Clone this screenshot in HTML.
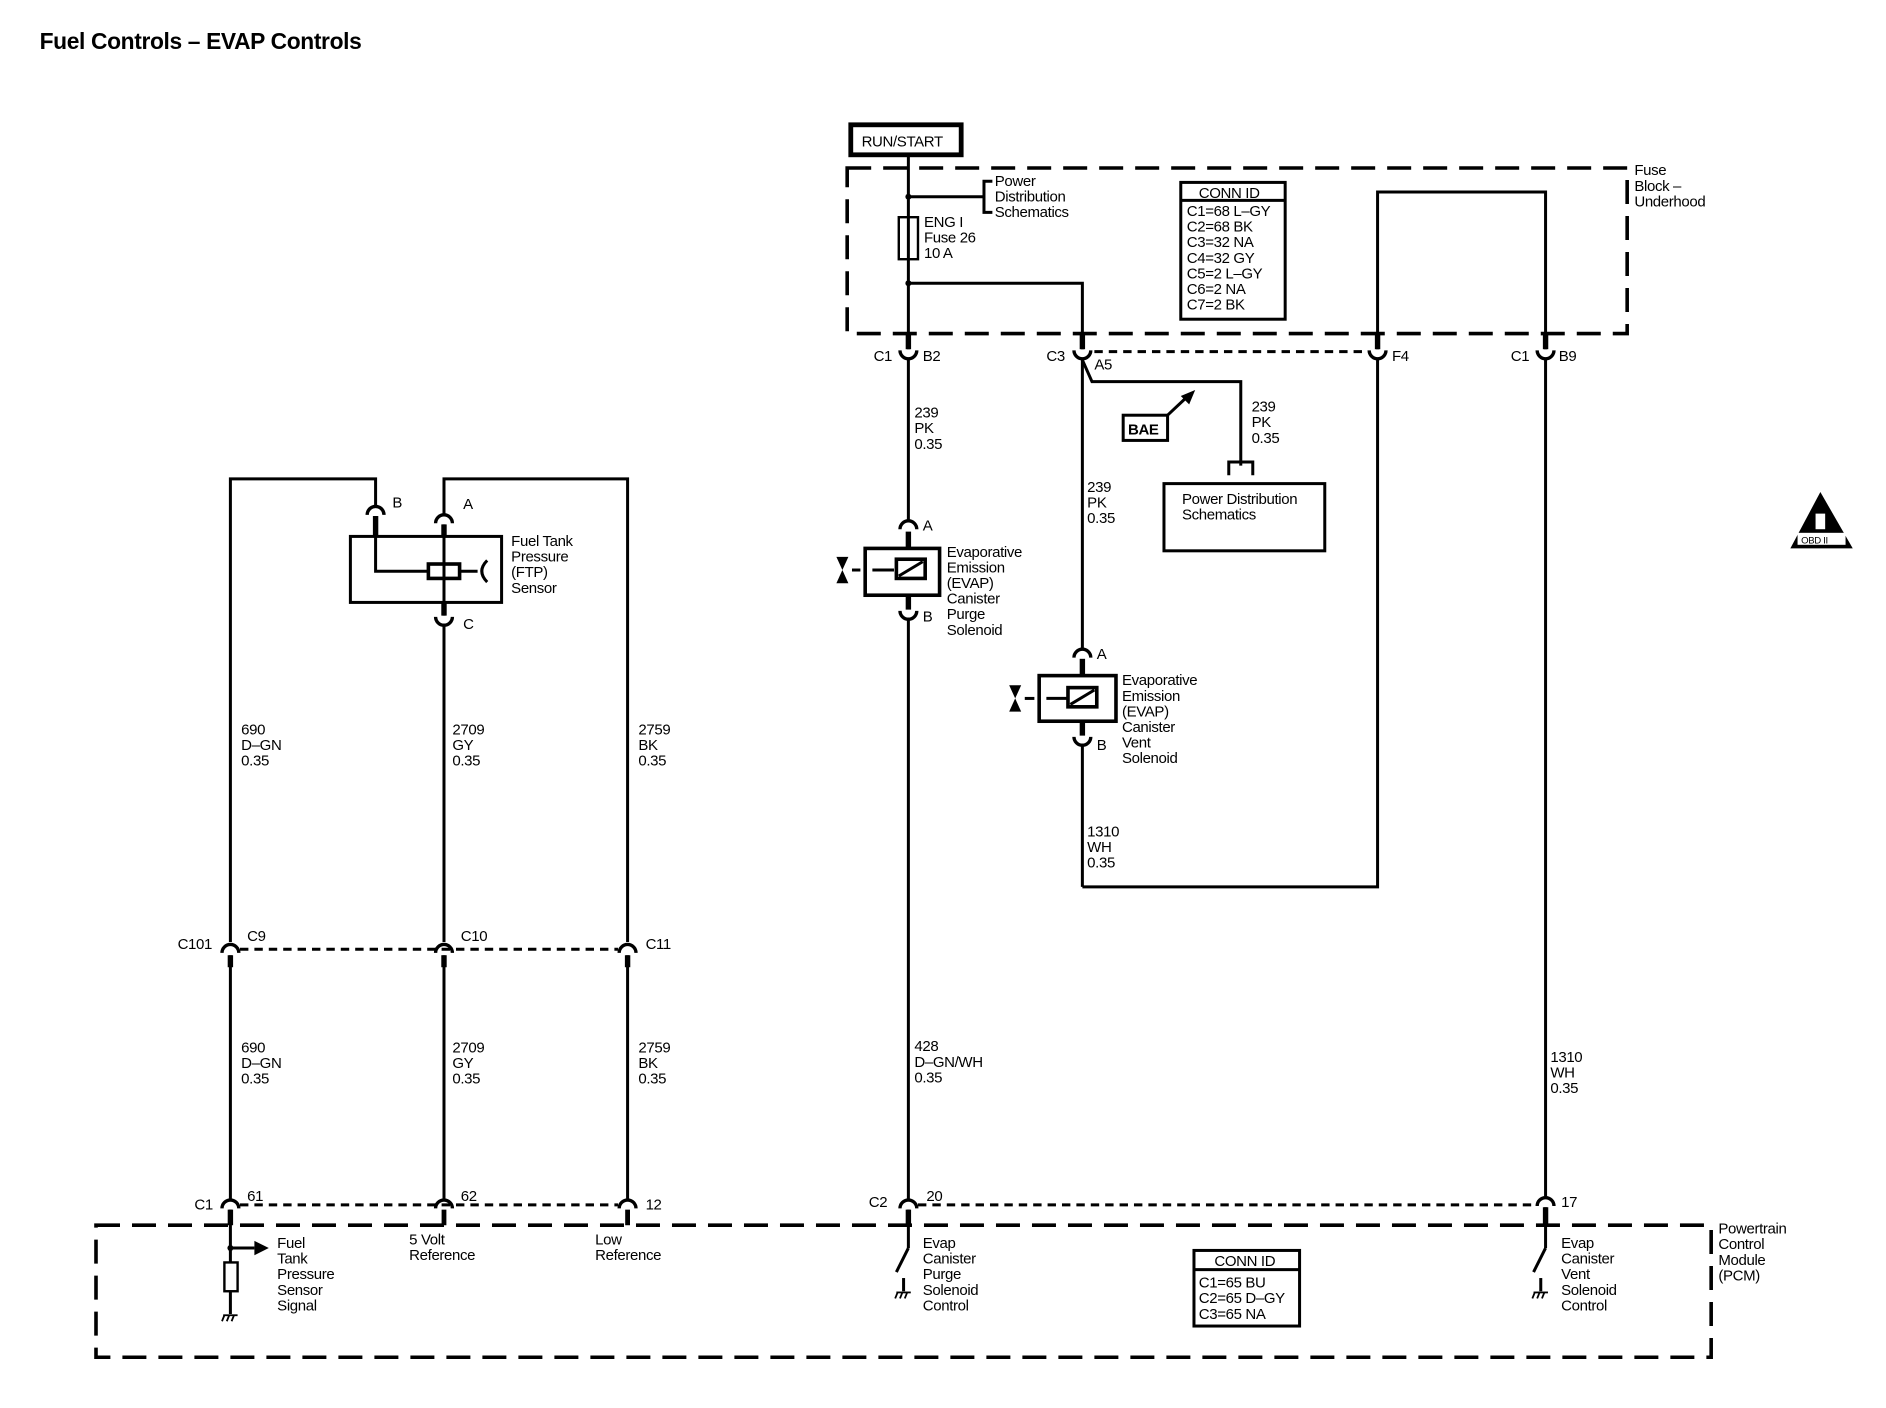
<!DOCTYPE html>
<html><head><meta charset="utf-8"><style>
html,body{margin:0;padding:0;background:#fff;}
svg{display:block;}
text{font-family:"Liberation Sans",sans-serif;font-size:12.5px;fill:#000;letter-spacing:-0.3px;}
.b{font-weight:bold;}
</style></head><body>
<svg width="1886" height="1408" viewBox="0 0 1571.7 1173.3" preserveAspectRatio="none" xmlns="http://www.w3.org/2000/svg">
<g fill="none" stroke="#000" stroke-width="2.5">
<rect x="706" y="140" width="650" height="138" stroke-dasharray="20,10" stroke-width="3"/>
<rect x="80" y="1021" width="1346" height="110" stroke-dasharray="20,10" stroke-width="3"/>
<rect x="709" y="104" width="92" height="25" stroke-width="4"/>
<line x1="757" y1="129" x2="757" y2="291"/>
<line x1="757" y1="300" x2="757" y2="434"/>
<line x1="757" y1="517" x2="757" y2="999"/>
<line x1="757" y1="1008" x2="757" y2="1040"/>
<line x1="757" y1="164" x2="820" y2="164"/>
<polyline points="827,151 820,151 820,177 827,177"/>
<rect x="749" y="181" width="16" height="35" stroke-width="2"/>
<polyline points="757,236 902,236 902,291"/>
<polyline points="902,300 910,318 1034,318 1034,388"/>
<polyline points="1024,396 1024,385 1044,385 1044,396"/>
<rect x="970" y="403" width="134" height="56"/>
<rect x="936" y="346" width="37" height="21"/>
<line x1="973" y1="346" x2="990" y2="330"/>
<line x1="902" y1="300" x2="902" y2="541"/>
<line x1="902" y1="621" x2="902" y2="739"/>
<polyline points="902,739 1148,739 1148,300"/>
<polyline points="1148,291 1148,160 1288,160 1288,291"/>
<line x1="1288" y1="300" x2="1288" y2="997"/>
<line x1="1288" y1="1006" x2="1288" y2="1040"/>
<line x1="912" y1="293" x2="1140" y2="293" stroke-dasharray="7,5"/>
<line x1="765" y1="1004" x2="1280" y2="1004" stroke-dasharray="7,5"/>
<line x1="200" y1="791" x2="515" y2="791" stroke-dasharray="7,5"/>
<line x1="200" y1="1004" x2="515" y2="1004" stroke-dasharray="7,5"/>
<polyline points="192,785 192,399 313,399 313,421"/>
<polyline points="370,428 370,399 523,399 523,785"/>
<line x1="192" y1="796" x2="192" y2="999"/>
<line x1="370" y1="796" x2="370" y2="999"/>
<line x1="523" y1="796" x2="523" y2="999"/>
<line x1="370" y1="522" x2="370" y2="785"/>
<rect x="292" y="447" width="126" height="55"/>
<polyline points="313,430 313,476 357,476"/>
<line x1="370" y1="437" x2="370" y2="513"/>
<rect x="357" y="470" width="26" height="12" stroke-width="3"/>
<line x1="383" y1="476" x2="398" y2="476"/>
<path d="M406,467 Q397,476 406,485"/>
<line x1="192" y1="1008" x2="192" y2="1095"/>
<line x1="192" y1="1040" x2="212" y2="1040"/>
<rect x="187" y="1052" width="11" height="24" fill="#fff" stroke-width="2"/>
<line x1="370" y1="1008" x2="370" y2="1021" stroke-width="4"/>
<line x1="523" y1="1008" x2="523" y2="1021" stroke-width="4"/>
<line x1="757" y1="1040" x2="747" y2="1060"/>
<line x1="753" y1="1065" x2="753" y2="1076"/>
<line x1="1288" y1="1040" x2="1278" y2="1060"/>
<line x1="1284" y1="1065" x2="1284" y2="1076"/>
<rect x="721" y="457" width="62" height="39" stroke-width="3"/>
<rect x="747" y="466" width="24" height="16" stroke-width="3"/>
<line x1="749" y1="480" x2="769" y2="468"/>
<line x1="710" y1="475" x2="717" y2="475"/>
<line x1="727" y1="475" x2="745" y2="475"/>
<rect x="866" y="563" width="64" height="38" stroke-width="3"/>
<rect x="890" y="573" width="24" height="16" stroke-width="3"/>
<line x1="892" y1="587" x2="912" y2="575"/>
<line x1="854" y1="582" x2="862" y2="582"/>
<line x1="872" y1="582" x2="889" y2="582"/>
<rect x="984" y="152" width="87" height="114" stroke-width="2.5"/>
<line x1="984" y1="167" x2="1071" y2="167"/>
<rect x="995" y="1042" width="88" height="63" stroke-width="2.5"/>
<line x1="995" y1="1058" x2="1083" y2="1058"/>
</g>
<g fill="none" stroke="#000" stroke-width="4.5">
<line x1="757" y1="278" x2="757" y2="291"/>
<line x1="902" y1="278" x2="902" y2="291"/>
<line x1="1148" y1="278" x2="1148" y2="291"/>
<line x1="1288" y1="278" x2="1288" y2="291"/>
<line x1="757" y1="443" x2="757" y2="457"/><line x1="757" y1="496" x2="757" y2="508"/>
<line x1="902" y1="549" x2="902" y2="563"/><line x1="902" y1="601" x2="902" y2="613"/>
<line x1="313" y1="430" x2="313" y2="447"/><line x1="370" y1="437" x2="370" y2="447"/>
<line x1="370" y1="502" x2="370" y2="513"/>
<line x1="192" y1="796" x2="192" y2="806"/><line x1="370" y1="796" x2="370" y2="806"/><line x1="523" y1="796" x2="523" y2="806"/>
<line x1="192" y1="1008" x2="192" y2="1021"/>
<line x1="757" y1="1008" x2="757" y2="1021"/>
<line x1="1288" y1="1006" x2="1288" y2="1021"/>
</g>
<g fill="none" stroke="#000" stroke-width="2.8">
<path d="M750,292 A7,7 0 0 0 764,292"/>
<path d="M895,292 A7,7 0 0 0 909,292"/>
<path d="M1141,292 A7,7 0 0 0 1155,292"/>
<path d="M1281,292 A7,7 0 0 0 1295,292"/>
<path d="M750,509 A7,7 0 0 0 764,509"/>
<path d="M895,614 A7,7 0 0 0 909,614"/>
<path d="M363,514 A7,7 0 0 0 377,514"/>
<path d="M750,441 A7,7 0 0 1 764,441"/>
<path d="M895,548 A7,7 0 0 1 909,548"/>
<path d="M306,429 A7,7 0 0 1 320,429"/>
<path d="M363,436 A7,7 0 0 1 377,436"/>
<path d="M185,794 A7,7 0 0 1 199,794"/>
<path d="M363,794 A7,7 0 0 1 377,794"/>
<path d="M516,794 A7,7 0 0 1 530,794"/>
<path d="M185,1007 A7,7 0 0 1 199,1007"/>
<path d="M363,1007 A7,7 0 0 1 377,1007"/>
<path d="M516,1007 A7,7 0 0 1 530,1007"/>
<path d="M750,1007 A7,7 0 0 1 764,1007"/>
<path d="M1281,1005 A7,7 0 0 1 1295,1005"/>
</g>
<g fill="#000" stroke="none">
<circle cx="757" cy="164" r="2.5"/><circle cx="757" cy="236" r="2.5"/><circle cx="192" cy="1040" r="2.5"/>
<polygon points="996,325 984,330 991,337"/>
<polygon points="212,1034 224,1040 212,1046"/>
<polygon points="697,464 707,464 702,475"/><polygon points="697,486 707,486 702,475"/>
<polygon points="841,571 851,571 846,582"/><polygon points="841,593 851,593 846,582"/>
<polygon points="1517,410 1492,457 1544,457"/>
</g>
<g stroke="#000" stroke-width="1.5" fill="none">
<line x1="186" y1="1096" x2="198" y2="1096"/><line x1="187" y1="1096" x2="185" y2="1101"/><line x1="191" y1="1096" x2="189" y2="1101"/><line x1="195" y1="1096" x2="193" y2="1101"/>
<line x1="747" y1="1077" x2="759" y2="1077"/><line x1="748" y1="1077" x2="746" y2="1082"/><line x1="752" y1="1077" x2="750" y2="1082"/><line x1="756" y1="1077" x2="754" y2="1082"/>
<line x1="1278" y1="1077" x2="1290" y2="1077"/><line x1="1279" y1="1077" x2="1277" y2="1082"/><line x1="1283" y1="1077" x2="1281" y2="1082"/><line x1="1287" y1="1077" x2="1285" y2="1082"/>
</g>
<rect x="1498" y="444" width="40" height="10" fill="#fff"/>
<rect x="1513" y="428" width="8" height="13" fill="#fff"/>
<text x="1501" y="453" style="font-size:8px">OBD II</text>

<text x="33" y="41" class="b" style="font-size:19px">Fuel Controls – EVAP Controls</text>
<text x="718" y="122">RUN/START</text>
<text x="829" y="155">Power</text><text x="829" y="168">Distribution</text><text x="829" y="181">Schematics</text>
<text x="770" y="189">ENG I</text><text x="770" y="202">Fuse 26</text><text x="770" y="215">10 A</text>
<text x="999" y="165">CONN ID</text>
<text x="989" y="180">C1=68 L–GY</text><text x="989" y="193">C2=68 BK</text><text x="989" y="206">C3=32 NA</text><text x="989" y="219">C4=32 GY</text><text x="989" y="232">C5=2 L–GY</text><text x="989" y="245">C6=2 NA</text><text x="989" y="258">C7=2 BK</text>
<text x="1362" y="146">Fuse</text><text x="1362" y="159">Block –</text><text x="1362" y="172">Underhood</text>
<text x="728" y="301">C1</text><text x="769" y="301">B2</text>
<text x="872" y="301">C3</text><text x="912" y="308">A5</text>
<text x="1160" y="301">F4</text>
<text x="1259" y="301">C1</text><text x="1299" y="301">B9</text>
<text x="940" y="362" class="b">BAE</text>
<text x="1043" y="343">239</text><text x="1043" y="356">PK</text><text x="1043" y="369">0.35</text>
<text x="985" y="420">Power Distribution</text><text x="985" y="433">Schematics</text>
<text x="762" y="348">239</text><text x="762" y="361">PK</text><text x="762" y="374">0.35</text>
<text x="906" y="410">239</text><text x="906" y="423">PK</text><text x="906" y="436">0.35</text>
<text x="769" y="442">A</text><text x="769" y="518">B</text>
<text x="789" y="464">Evaporative</text><text x="789" y="477">Emission</text><text x="789" y="490">(EVAP)</text><text x="789" y="503">Canister</text><text x="789" y="516">Purge</text><text x="789" y="529">Solenoid</text>
<text x="914" y="549">A</text><text x="914" y="625">B</text>
<text x="935" y="571">Evaporative</text><text x="935" y="584">Emission</text><text x="935" y="597">(EVAP)</text><text x="935" y="610">Canister</text><text x="935" y="623">Vent</text><text x="935" y="636">Solenoid</text>
<text x="906" y="697">1310</text><text x="906" y="710">WH</text><text x="906" y="723">0.35</text>
<text x="762" y="876">428</text><text x="762" y="889">D–GN/WH</text><text x="762" y="902">0.35</text>
<text x="1292" y="885">1310</text><text x="1292" y="898">WH</text><text x="1292" y="911">0.35</text>
<text x="327" y="423">B</text><text x="386" y="424">A</text><text x="386" y="524">C</text>
<text x="426" y="455">Fuel Tank</text><text x="426" y="468">Pressure</text><text x="426" y="481">(FTP)</text><text x="426" y="494">Sensor</text>
<text x="201" y="612">690</text><text x="201" y="625">D–GN</text><text x="201" y="638">0.35</text>
<text x="377" y="612">2709</text><text x="377" y="625">GY</text><text x="377" y="638">0.35</text>
<text x="532" y="612">2759</text><text x="532" y="625">BK</text><text x="532" y="638">0.35</text>
<text x="148" y="791">C101</text><text x="206" y="784">C9</text><text x="384" y="784">C10</text><text x="538" y="791">C11</text>
<text x="201" y="877">690</text><text x="201" y="890">D–GN</text><text x="201" y="903">0.35</text>
<text x="377" y="877">2709</text><text x="377" y="890">GY</text><text x="377" y="903">0.35</text>
<text x="532" y="877">2759</text><text x="532" y="890">BK</text><text x="532" y="903">0.35</text>
<text x="162" y="1008">C1</text><text x="206" y="1001">61</text><text x="384" y="1001">62</text><text x="538" y="1008">12</text>
<text x="724" y="1006">C2</text><text x="772" y="1001">20</text><text x="1301" y="1006">17</text>
<text x="231" y="1040">Fuel</text><text x="231" y="1053">Tank</text><text x="231" y="1066">Pressure</text><text x="231" y="1079">Sensor</text><text x="231" y="1092">Signal</text>
<text x="341" y="1037">5 Volt</text><text x="341" y="1050">Reference</text>
<text x="496" y="1037">Low</text><text x="496" y="1050">Reference</text>
<text x="769" y="1040">Evap</text><text x="769" y="1053">Canister</text><text x="769" y="1066">Purge</text><text x="769" y="1079">Solenoid</text><text x="769" y="1092">Control</text>
<text x="1301" y="1040">Evap</text><text x="1301" y="1053">Canister</text><text x="1301" y="1066">Vent</text><text x="1301" y="1079">Solenoid</text><text x="1301" y="1092">Control</text>
<text x="1012" y="1055">CONN ID</text>
<text x="999" y="1073">C1=65 BU</text><text x="999" y="1086">C2=65 D–GY</text><text x="999" y="1099">C3=65 NA</text>
<text x="1432" y="1028">Powertrain</text><text x="1432" y="1041">Control</text><text x="1432" y="1054">Module</text><text x="1432" y="1067">(PCM)</text>
</svg>
</body></html>
